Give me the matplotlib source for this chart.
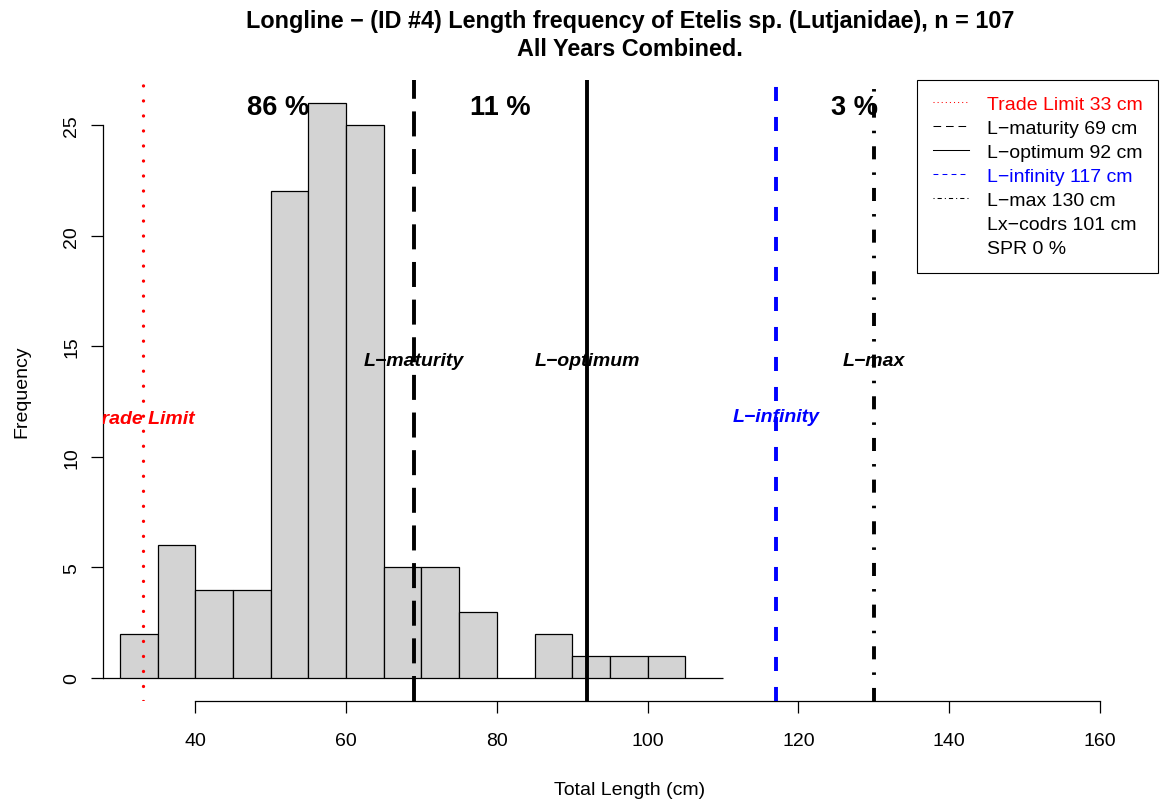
import matplotlib
matplotlib.use('Agg')
import matplotlib.pyplot as plt
from matplotlib.lines import Line2D

plt.rcParams['font.family'] = ['Liberation Sans', 'DejaVu Sans']
plt.rcParams['lines.scale_dashes'] = False

# length bins (left edges, 5 cm wide) and counts
bin_left = list(range(0, 110, 5))
counts = [0, 0, 0, 0, 0, 0, 2, 6, 4, 4, 22, 26, 25, 5, 5, 3, 0, 2, 1, 1, 1, 0]

# reference lengths
ref_names = ['Trade Limit', 'L\u2212maturity', 'L\u2212optimum', 'L\u2212infinity', 'L\u2212max']
ref_values = [33, 69, 92, 117, 130]
ref_colors = ['red', 'black', 'black', 'blue', 'black']
ref_label_y = [11.55, 14.17, 14.17, 11.6, 14.17]

pct_labels = ['86 %', '11 %', '3 %']
pct_x = [51, 80.5, 127.5]
pct_y = 25.5

extra_labels = ['Lx\u2212codrs 101 cm', 'SPR 0 %']

title1 = 'Longline \u2212 (ID #4) Length frequency of Etelis sp. (Lutjanidae), n = 107'
title2 = 'All Years Combined.'

W, H = 1163, 803
fig = plt.figure(figsize=(W / 100, H / 100), dpi=100)
ax = fig.add_axes([103 / W, 1 - 702 / H, (1158 - 103) / W, (702 - 81) / H])

ax.bar(bin_left, counts, width=5, align='edge', color='#D3D3D3',
       edgecolor='black', linewidth=0.9, zorder=2)

big_styles = [(0, (0.01, 10.8)), (0, (18, 9.1)), '-', (0, (10.1, 11.5)),
              (0, (9.4, 9.4, 1.8, 9.4))]
big_lw = [2.4, 2.8, 2.8, 2.8, 2.8]
for v, c, ls, lw in zip(ref_values, ref_colors, big_styles, big_lw):
    ln = ax.axvline(v, color=c, linestyle=ls, linewidth=lw, zorder=3)
    if v == ref_values[0]:
        ln.set_dash_capstyle('round')

for name, v, c, y in zip(ref_names, ref_values, ref_colors, ref_label_y):
    ax.text(v, y, name, color=c, fontsize=14, fontweight='bold', style='italic',
            ha='center', va='baseline', zorder=4, clip_on=True)

for lab, x in zip(pct_labels, pct_x):
    ax.text(x, pct_y, lab, fontsize=19.6, fontweight='bold', ha='center',
            va='baseline', zorder=4)

ax.set_xlim(27.76, 167.7)
ax.set_ylim(-1.04, 27.04)
ax.set_xticks(range(40, 161, 20))
ax.set_yticks(range(0, 26, 5))
for s in ['top', 'right']:
    ax.spines[s].set_visible(False)
ax.spines['bottom'].set_bounds(40, 160)
ax.spines['left'].set_bounds(0, 25)
for s in ['bottom', 'left']:
    ax.spines[s].set_linewidth(0.9)
ax.tick_params(axis='both', length=8.4, width=0.9, labelsize=14)
ax.tick_params(axis='x', pad=14)
ax.tick_params(axis='y', pad=8, labelrotation=90)
for lbl in ax.get_yticklabels():
    lbl.set_va('center')

# legend
leg_styles = [(0, (0.75, 2.2)), (0, (5.5, 3.5)), '-', (0, (3.5, 3)),
              (0, (0.75, 2.2, 3, 2.2))]
handles = [Line2D([], [], color=c, linestyle=ls, linewidth=0.75)
           for c, ls in zip(ref_colors, leg_styles)]
handles += [Line2D([], [], linestyle='none') for _ in extra_labels]
labels = ['%s %d cm' % (n, v) for n, v in zip(ref_names, ref_values)] + extra_labels
leg = ax.legend(handles, labels, loc='upper right', bbox_to_anchor=(1, 1),
                bbox_transform=ax.transAxes, borderaxespad=0, fontsize=14,
                fancybox=False, edgecolor='black', framealpha=1,
                borderpad=0.8, labelspacing=0.33, handlelength=1.85,
                handletextpad=0.93)
leg.get_frame().set_linewidth(0.8)
for t, c in zip(leg.get_texts(), ref_colors + ['black'] * len(extra_labels)):
    t.set_color(c)

fig.text(630 / W, 1 - 28 / H, title1, fontsize=16.8, fontweight='bold',
         ha='center', va='baseline')
fig.text(630 / W, 1 - 56 / H, title2, fontsize=16.8, fontweight='bold',
         ha='center', va='baseline')
fig.text(630 / W, 1 - 795 / H, 'Total Length (cm)', fontsize=14,
         ha='center', va='baseline')
fig.text(26.7 / W, 1 - 391.5 / H, 'Frequency', fontsize=14, rotation=90,
         rotation_mode='anchor', ha='center', va='baseline')

fig.savefig('out.png', dpi=100)
